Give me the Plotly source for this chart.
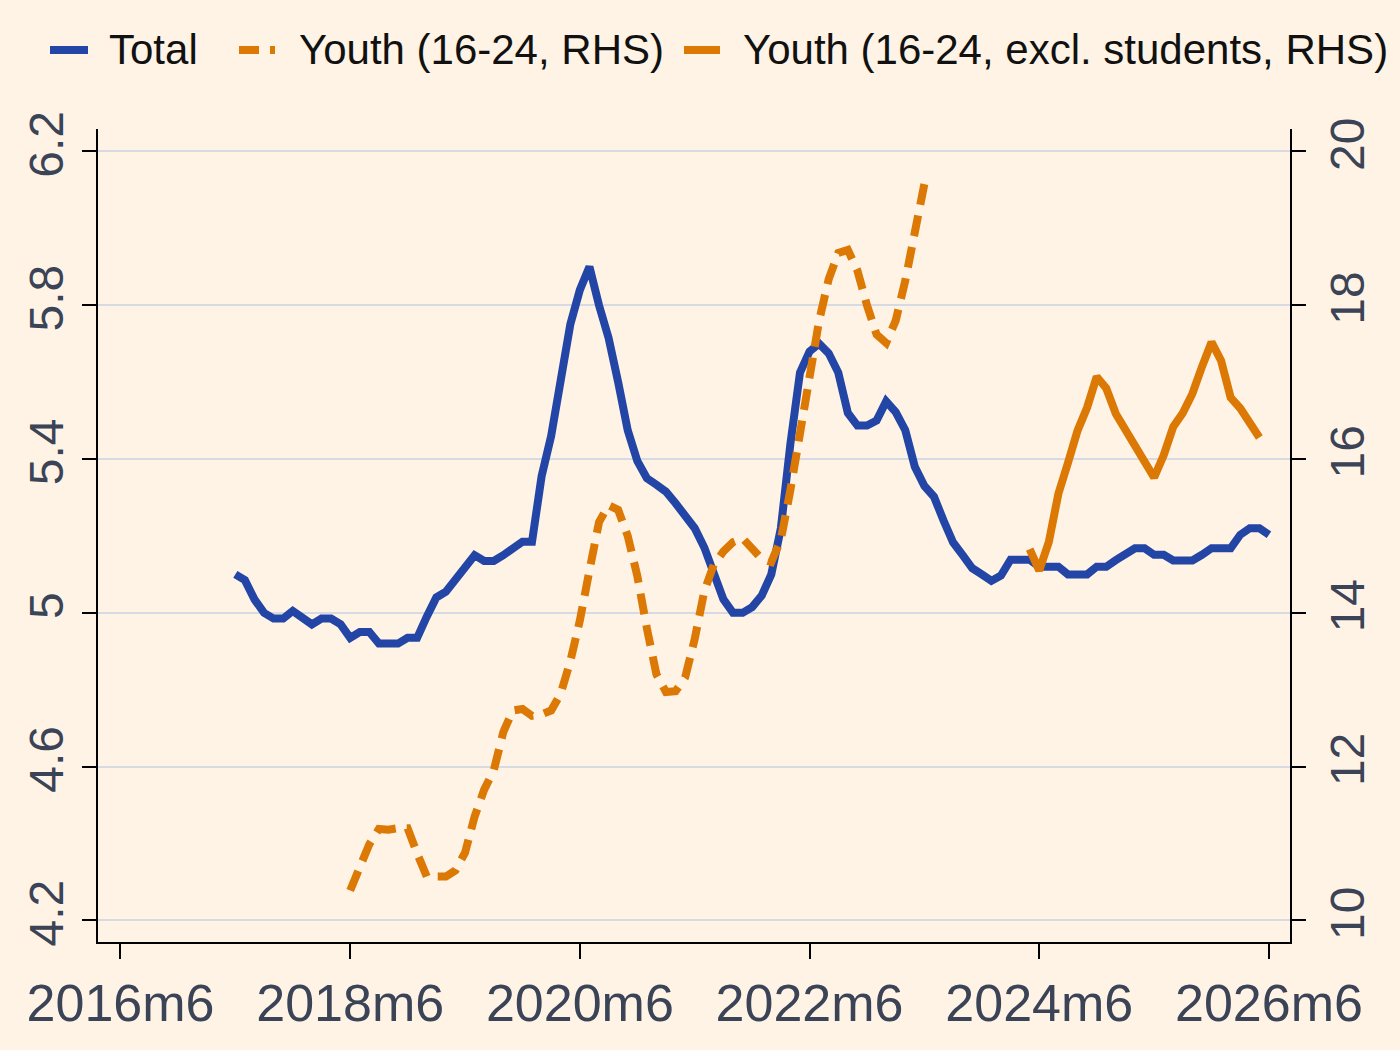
import plotly.graph_objects as go

# ---------------- data (monthly) ----------------
tick_labels = ["2016m6", "2018m6", "2020m6", "2022m6", "2024m6", "2026m6"]

total_start = "2017m6"
total = [5.10, 5.085, 5.035, 5.0, 4.985, 4.985, 5.005, 4.99, 4.97, 4.985,
         4.985, 4.97, 4.935, 4.95, 4.95, 4.92, 4.92, 4.92, 4.935, 4.935,
         4.99, 5.04, 5.055, 5.085, 5.12, 5.15, 5.135, 5.135, 5.15, 5.165,
         5.185, 5.185, 5.355, 5.46, 5.61, 5.75, 5.84, 5.90, 5.80, 5.715,
         5.60, 5.475, 5.395, 5.35, 5.333, 5.315, 5.285, 5.255, 5.22, 5.17,
         5.10, 5.035, 5.0, 5.0, 5.015, 5.045, 5.10, 5.22, 5.44, 5.625,
         5.68, 5.70, 5.675, 5.625, 5.52, 5.487, 5.487, 5.50, 5.55, 5.522,
         5.475, 5.38, 5.33, 5.302, 5.24, 5.183, 5.15, 5.116, 5.10, 5.083,
         5.097, 5.138, 5.138, 5.138, 5.12, 5.12, 5.12, 5.10, 5.10, 5.10,
         5.12, 5.12, 5.137, 5.153, 5.168, 5.168, 5.151, 5.151, 5.136, 5.136,
         5.136, 5.151, 5.168, 5.168, 5.168, 5.203, 5.22, 5.22, 5.203]

youth_start = "2018m6"
youth = [10.39, 10.71, 10.99, 11.19, 11.18, 11.2, 11.2, 10.87, 10.57, 10.57,
         10.57, 10.65, 10.88, 11.35, 11.7, 11.95, 12.45, 12.73, 12.75, 12.66,
         12.68, 12.73, 12.95, 13.37, 13.9, 14.55, 15.18, 15.40, 15.34, 15.0,
         14.48, 13.8, 13.2, 12.97, 12.98, 13.16, 13.66, 14.28, 14.63, 14.8,
         14.92, 14.97, 14.82, 14.7, 14.66, 14.95, 15.6, 16.35, 17.05, 17.8,
         18.34, 18.68, 18.72, 18.45, 18.0, 17.62, 17.51, 17.8, 18.32, 19.0,
         19.58]

youth_ex_start = "2024m5"
youth_ex = [14.83, 14.55, 14.92, 15.55, 15.95, 16.37, 16.67, 17.07, 16.92, 16.59,
            16.38, 16.18, 15.97, 15.76, 16.05, 16.42, 16.6, 16.85, 17.2, 17.52,
            17.28, 16.8, 16.66, 16.49, 16.28]

names = ["Total", "Youth (16-24, RHS)", "Youth (16-24, excl. students, RHS)"]


def month_index(label):
    y, m = label.split("m")
    return int(y) * 12 + int(m) - 1


BASE = month_index(tick_labels[0])


def xs(start, n):
    s = month_index(start) - BASE
    return list(range(s, s + n))


tick_vals = [month_index(t) - BASE for t in tick_labels]

# ---------------- style ----------------
BG = "#FFF3E5"
BLUE = "#2346A6"
ORANGE = "#DC7804"
TXT = "#3B4356"
GRID = "#D6DAE2"
FONT = "Liberation Sans, Arial, sans-serif"
DASH = "21px,11px"
LW = 8

W, H = 1400, 1050
ML, MR, MT, MB = 98, 110, 129, 108
PW, PH = W - ML - MR, H - MT - MB


def px(x):
    return (x - ML) / PW


def py(y):
    return (H - MB - y) / PH


styles = [dict(color=BLUE, width=LW),
          dict(color=ORANGE, width=LW, dash=DASH),
          dict(color=ORANGE, width=LW)]

fig = go.Figure()
fig.add_trace(go.Scatter(x=xs(total_start, len(total)), y=total, name=names[0],
                         mode="lines", line=styles[0], yaxis="y"))
fig.add_trace(go.Scatter(x=xs(youth_start, len(youth)), y=youth, name=names[1],
                         mode="lines", line=styles[1], yaxis="y2"))
fig.add_trace(go.Scatter(x=xs(youth_ex_start, len(youth_ex)), y=youth_ex, name=names[2],
                         mode="lines", line=styles[2], yaxis="y2"))

# manual legend (symbol + text), placed in pixel positions above the plot
leg_sym_x = [(50, 88), (239, 275), (684, 720)]
leg_txt_x = [107, 297, 741]
leg_y = 50
shapes = []
annotations = []
for (x0, x1), tx, st, nm in zip(leg_sym_x, leg_txt_x, styles, names):
    shapes.append(dict(type="line", xref="paper", yref="paper",
                       x0=px(x0), x1=px(x1), y0=py(leg_y), y1=py(leg_y),
                       line=dict(color=st["color"], width=8,
                                 dash="20px,11px" if "dash" in st else "solid")))
    annotations.append(dict(xref="paper", yref="paper", x=px(tx), y=py(leg_y),
                            xanchor="left", yanchor="middle", showarrow=False,
                            text=nm, font=dict(size=42, color="#111111", family=FONT)))

fig.update_layout(
    width=W, height=H,
    paper_bgcolor=BG, plot_bgcolor=BG,
    margin=dict(l=ML, r=MR, t=MT, b=MB, autoexpand=False),
    font=dict(family=FONT, color=TXT),
    showlegend=False,
    shapes=shapes,
    annotations=annotations,
    xaxis=dict(range=[-2.35, 122.2], tickmode="array", tickvals=tick_vals,
               ticktext=tick_labels, showgrid=False, zeroline=False,
               showline=True, linecolor="#000000", linewidth=2,
               ticks="outside", ticklen=15, tickwidth=2, tickcolor="#000000",
               tickfont=dict(size=52, color=TXT, family=FONT)),
    yaxis=dict(range=[4.1438, 6.2585], tickmode="array",
               tickvals=[4.2, 4.6, 5.0, 5.4, 5.8, 6.2],
               ticktext=["4.2", "4.6", "5", "5.4", "5.8", "6.2"],
               showgrid=True, gridcolor=GRID, gridwidth=1.5, zeroline=False,
               showline=True, linecolor="#000000", linewidth=2,
               ticks="outside", ticklen=14, tickwidth=2, tickcolor="#000000",
               tickangle=-90, tickfont=dict(size=48, color=TXT, family=FONT)),
    yaxis2=dict(range=[9.719, 20.2925], overlaying="y", side="right",
                tickmode="array", tickvals=[10, 12, 14, 16, 18, 20],
                showgrid=False, zeroline=False,
                showline=True, linecolor="#000000", linewidth=2,
                ticks="outside", ticklen=14, tickwidth=2, tickcolor="#000000",
                tickangle=-90, tickfont=dict(size=48, color=TXT, family=FONT)),
)

fig.write_html("out.html")
